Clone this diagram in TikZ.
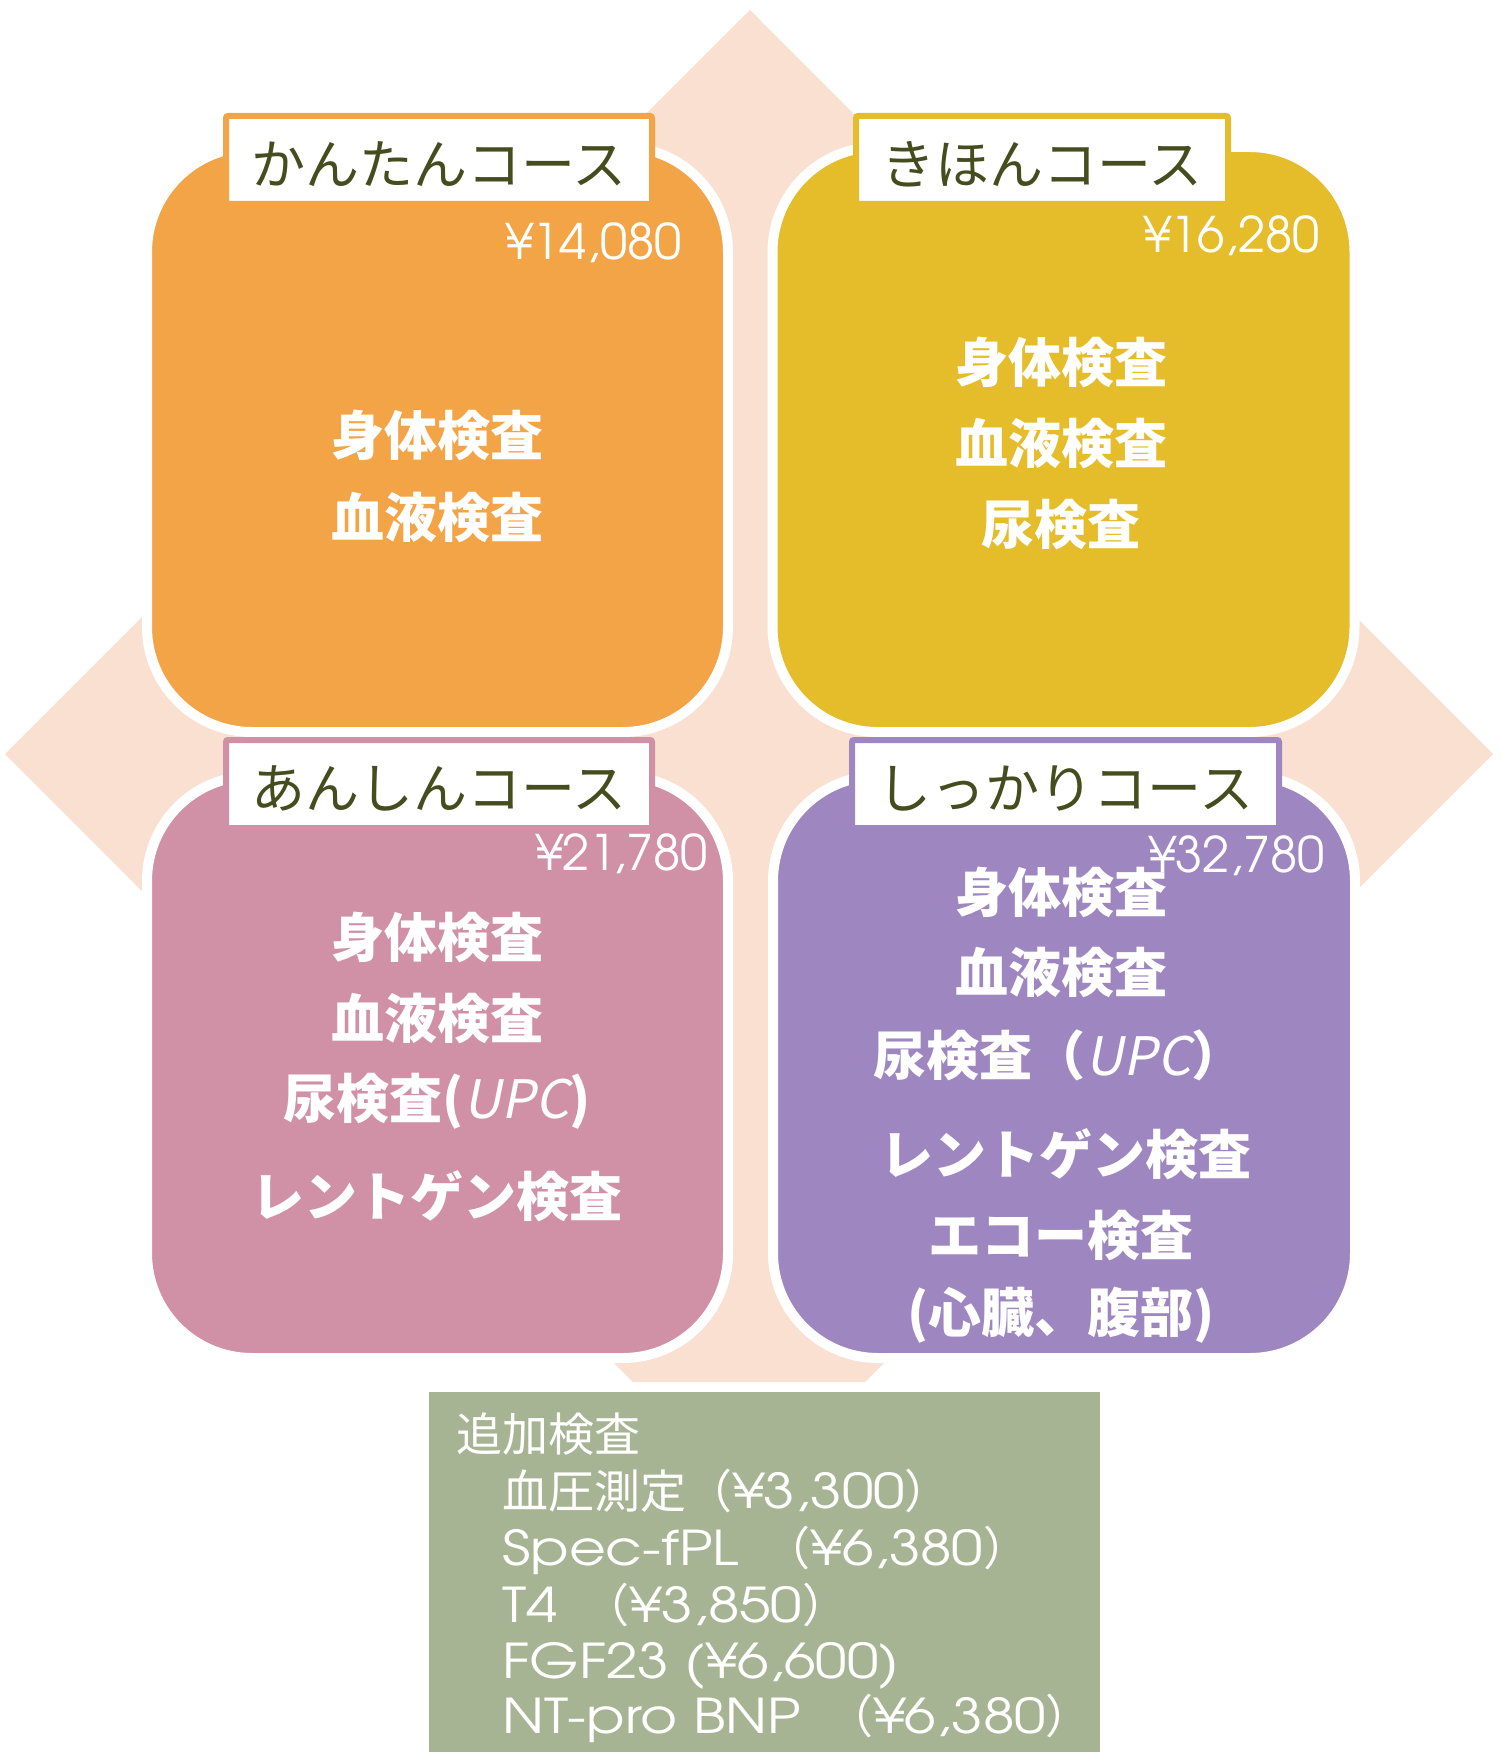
\documentclass[tikz,border=0pt]{standalone}
\usepackage{fontspec}
\setmainfont{Noto Sans CJK JP}
\newfontfamily\jpfont{Noto Sans CJK JP}
\newfontfamily\jpslant{Noto Sans CJK JP}[FakeSlant=0.2]
\newfontfamily\pricefont{texgyreadventor-regular.otf}
\newfontfamily\widefont{texgyreadventor-regular.otf}[FakeStretch=1.18]
\definecolor{peach}{HTML}{FAE0D0}
\definecolor{corange}{HTML}{F2A446}
\definecolor{cyellow}{HTML}{E5BC2A}
\definecolor{cpink}{HTML}{D090A6}
\definecolor{cpurple}{HTML}{9E86C0}
\definecolor{cgreen}{HTML}{A6B493}
\definecolor{tagtext}{HTML}{454D1F}
\newcommand{\lat}[1]{{\widefont\fontsize{48pt}{56pt}\selectfont #1}}
\begin{document}
\begin{tikzpicture}[x=1pt,y=-1pt,
  course/.style={rectangle, draw=white, line width=10pt, rounded corners=105pt,
    minimum width=581pt, minimum height=585pt, inner sep=0pt},
  tag/.style={rectangle, fill=white, line width=6pt, rounded corners=2pt,
    minimum height=88pt, inner sep=0pt, text=tagtext,
    font=\jpfont\fontsize{54pt}{60pt}\selectfont, text height=49pt, text depth=0pt},
  item/.style={anchor=center, text=white, inner sep=0pt,
    font=\jpfont\bfseries\fontsize{53pt}{60pt}\selectfont, text height=40pt, text depth=0pt},
  price/.style={anchor=east, text=white, inner sep=0pt,
    font=\pricefont\fontsize{49pt}{54pt}\selectfont, text height=36pt, text depth=0pt},
  extra/.style={anchor=base west, text=white, inner sep=0pt,
    font=\jpfont\fontsize{46pt}{56pt}\selectfont}
]
\useasboundingbox (0,0) rectangle (1500,1760);
\fill[white] (0,0) rectangle (1500,1760);

% background diamond
\fill[peach] (750,10) -- (1493,754) -- (865,1382) -- (633,1382) -- (5,754) -- cycle;

% course boxes
\node[course, fill=corange] (kantan) at (437.5,439.5) {};
\node[course, fill=cyellow, minimum width=582pt] (kihon) at (1063.5,439.5) {};
\node[course, fill=cpink, minimum height=582pt] (anshin) at (437.5,1067) {};
\node[course, fill=cpurple, minimum width=582pt, minimum height=582pt] (shikkari) at (1064,1067) {};

% tags
\node[tag, draw=corange, minimum width=426pt] (tagA) at (439,160) {かんたんコース};
\node[tag, draw=cyellow, minimum width=372pt] (tagB) at (1042,160) {きほんコース};
\node[tag, draw=cpink, minimum width=426pt] (tagC) at (439,784) {あんしんコース};
\node[tag, draw=cpurple, minimum width=427pt] (tagD) at (1065.5,784) {しっかりコース};

% prices
\node[price] (pA) at (682,242) {¥14,080};
\node[price] (pB) at (1320,235) {¥16,280};
\node[price] (pC) at (708,852) {¥21,780};
\node[price] (pD) at (1325,854) {¥32,780};

% orange items
\node[item] (a1) at (437,435) {身体検査};
\node[item] (a2) at (437,517) {血液検査};
% yellow items
\node[item] (b1) at (1061,362) {身体検査};
\node[item] (b2) at (1061,443) {血液検査};
\node[item] (b3) at (1061,524) {尿検査};
% pink items
\node[item] (c1) at (437,937) {身体検査};
\node[item] (c2) at (437,1018) {血液検査};
\node[item] (c3) at (437,1098) {尿検査({\jpslant\mdseries UPC})};
\node[item] (c4) at (437,1196) {レントゲン検査};
% purple items
\node[item] (d1) at (1061,892) {身体検査};
\node[item] (d2) at (1061,972) {血液検査};
\node[item] (d3) at (1059,1055) {尿検査（{\jpslant\mdseries UPC}）};
\node[item] (d4) at (1066,1154) {レントゲン検査};
\node[item] (d5) at (1061,1235) {エコー検査};
\node[item] (d6) at (1061,1312) {(心臓、腹部)};

% additional tests
\node[rectangle, fill=cgreen, minimum width=671pt, minimum height=360pt, inner sep=0pt] (extrabox) at (764.5,1572) {};
\node[extra] (e0) at (456,1451) {追加検査};
\node[extra] (e1) at (502,1508) {血圧測定（\lat{¥3,300}）};
\node[extra] (e2) at (502,1565) {\lat{Spec-fPL\ } （\lat{¥6,380}）};
\node[extra] (e3) at (502,1622) {\lat{T4\ } （\lat{¥3,850}）};
\node[extra] (e4) at (502,1678) {\lat{FGF23 (¥6,600)}};
\node[extra] (e5) at (502,1733) {\lat{NT-pro BNP\ } （\lat{¥6,380}）};
\end{tikzpicture}
\end{document}
